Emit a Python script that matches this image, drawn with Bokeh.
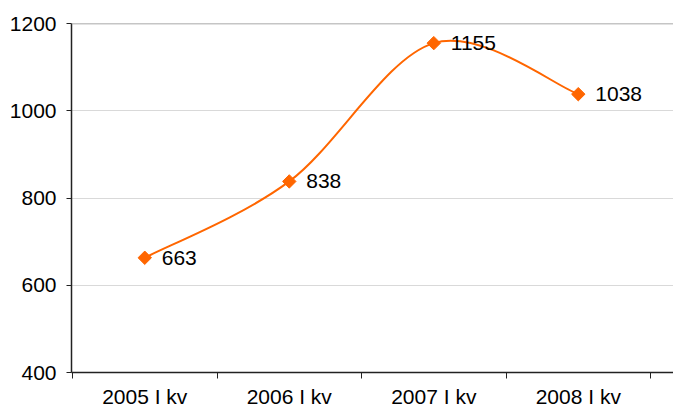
import numpy as np
from bokeh.plotting import figure
from bokeh.models import Range1d, FixedTicker, Span, ColumnDataSource
from bokeh.embed import file_html
from bokeh.resources import INLINE

categories = ["2005 I kv", "2006 I kv", "2007 I kv", "2008 I kv"]
values = [663, 838, 1155, 1038]
y_ticks = [400, 600, 800, 1000, 1200]

FONT = "Liberation Sans"
ORANGE = "#FF6600"

xs = np.arange(len(values), dtype=float)
ys = np.array(values, dtype=float)

p = figure(width=673, height=410, output_backend="svg", toolbar_location=None,
           x_range=Range1d(-0.507, 3.659), y_range=Range1d(y_ticks[0], y_ticks[-1]),
           min_border_left=71, min_border_right=0, min_border_top=23, min_border_bottom=37)
p.outline_line_color = None
p.background_fill_color = "white"

# x axis: boundary ticks as minor ticks, labels at category centres
p.xaxis.ticker = FixedTicker(ticks=list(xs), minor_ticks=[i - 0.5 for i in range(len(values) + 1)])
p.xaxis.major_label_overrides = {i: c for i, c in enumerate(categories)}
p.xaxis.major_tick_out = 0
p.xaxis.major_tick_in = 0
p.xaxis.minor_tick_out = 6
p.xaxis.minor_tick_in = 0
p.xaxis.major_label_standoff = 6
p.xgrid.grid_line_color = None

p.yaxis.ticker = FixedTicker(ticks=y_ticks)
p.yaxis.major_tick_out = 5
p.yaxis.major_tick_in = 0
p.yaxis.minor_tick_line_color = None
p.yaxis.major_label_standoff = 10
p.ygrid.ticker = FixedTicker(ticks=y_ticks[1:-1])
p.ygrid.grid_line_color = "#D9D9D9"
p.ygrid.grid_line_width = 1

for ax in (p.xaxis, p.yaxis):
    ax.axis_line_color = "#222222"
    ax.axis_line_width = 1.5
    ax.major_tick_line_color = "#222222"
    ax.major_label_text_font = FONT
    ax.major_label_text_font_size = "21px"
    ax.major_label_text_color = "#000000"
p.xaxis.minor_tick_line_color = "#222222"

p.add_layout(Span(location=y_ticks[-1], dimension="width", line_color="#8C8C8C", line_width=1.5))

# smoothed line (Catmull-Rom style, like a spreadsheet smoothed line)
px = np.concatenate([[xs[0]], xs, [xs[-1]]])
py = np.concatenate([[ys[0]], ys, [ys[-1]]])
x0, y0 = px[1:-2], py[1:-2]
x1, y1 = px[2:-1], py[2:-1]
cx0 = x0 + (px[2:-1] - px[:-3]) / 6
cy0 = y0 + (py[2:-1] - py[:-3]) / 6
cx1 = x1 - (px[3:] - px[1:-2]) / 6
cy1 = y1 - (py[3:] - py[1:-2]) / 6
p.bezier(x0=x0, y0=y0, x1=x1, y1=y1, cx0=cx0, cy0=cy0, cx1=cx1, cy1=cy1,
         line_color=ORANGE, line_width=2)

src = ColumnDataSource(dict(x=xs, y=ys, lab=[str(v) for v in values]))
p.scatter("x", "y", source=src, marker="square", angle=np.pi / 4, size=9.5,
          fill_color=ORANGE, line_color=ORANGE)
p.text("x", "y", text="lab", source=src, x_offset=17, text_baseline="middle",
       text_align="left", text_font_size="21px", text_color="#000000",
       text_font={"value": FONT})

open("out.html", "w").write(file_html(p, INLINE))
